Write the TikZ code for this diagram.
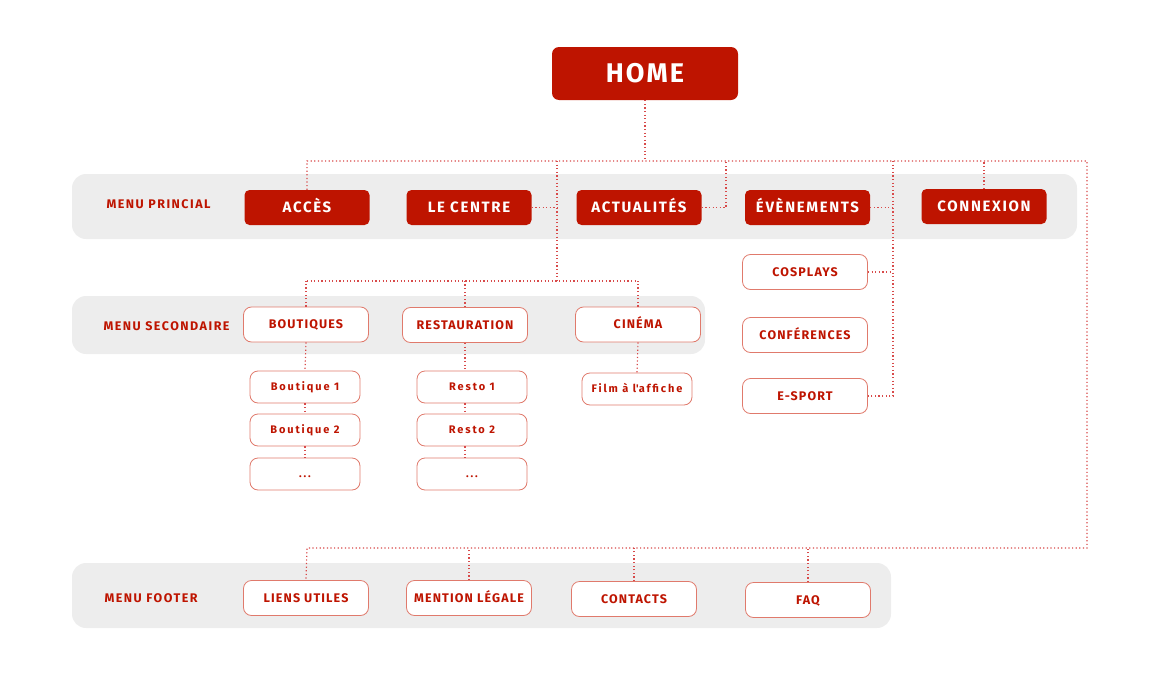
\documentclass[tikz,border=0pt]{standalone}
\usepackage{fontspec}
\setmainfont{Fira Sans}
\definecolor{brick}{HTML}{BE1400}
\definecolor{brickline}{HTML}{E07A6C}
\definecolor{dotred}{HTML}{D84A4A}
\definecolor{bandgray}{HTML}{EDEDED}
\tikzset{
  band/.style={fill=bandgray,rounded corners=14pt},
  bandlbl/.style={anchor=west,text=brick,font=\bfseries\fontsize{12.5}{12.5}\selectfont\addfontfeature{LetterSpace=12}},
  mainbtn/.style={fill=brick,text=white,rounded corners=5pt,minimum width=125pt,minimum height=35pt,inner sep=0pt,
    text height=10.4pt,text depth=0pt,
    font=\bfseries\fontsize{15}{15}\selectfont\addfontfeature{LetterSpace=11}},
  subbtn/.style={draw=brickline,fill=white,text=brick,line width=0.8pt,rounded corners=8pt,minimum width=125pt,minimum height=35pt,inner sep=0pt,
    text height=8.6pt,text depth=0pt,
    font=\bfseries\fontsize{12.5}{12.5}\selectfont\addfontfeature{LetterSpace=9}},
  itembtn/.style={subbtn,minimum width=110pt,minimum height=32pt,text height=7.6pt,
    font=\bfseries\fontsize{11}{11}\selectfont\addfontfeature{LetterSpace=17}},
  link/.style={draw=dotred,line width=1.2pt,dash pattern=on 1.2pt off 2.4pt}
}
\begin{document}
\begin{tikzpicture}[x=1pt,y=-1pt]
  \useasboundingbox (0,0) rectangle (1160,680);
  % bands
  \fill[band] (72,174) rectangle (1077,239);
  \fill[band] (72,296) rectangle (705,354);
  \fill[band] (72,563) rectangle (891,628);
  \node[bandlbl] (lblmain) at (103,204) {MENU PRINCIAL};
  \node[bandlbl] (lblsec) at (100,326) {MENU SECONDAIRE};
  \node[bandlbl] (lblfoot) at (101,598) {MENU FOOTER};
  % home + main menu
  \node[mainbtn,minimum width=186pt,minimum height=53pt,rounded corners=7pt,text height=18.6pt,
    font=\bfseries\fontsize{27}{27}\selectfont\addfontfeature{LetterSpace=8}] (home) at (645,73.5) {HOME};
  \node[mainbtn] (acces) at (307,207.5) {ACCÈS};
  \node[mainbtn] (centre) at (469,207.5) {LE CENTRE};
  \node[mainbtn] (actu) at (639,207.5) {ACTUALITÉS};
  \node[mainbtn] (even) at (807.5,207.5) {ÉVÈNEMENTS};
  \node[mainbtn] (connexion) at (984,206.5) {CONNEXION};
  % secondary menu
  \node[subbtn] (boutiques) at (306,324.5) {BOUTIQUES};
  \node[subbtn] (resto) at (465,325) {RESTAURATION};
  \node[subbtn] (cinema) at (638,324.5) {CINÉMA};
  \node[itembtn] (b1) at (305,387) {Boutique 1};
  \node[itembtn] (b2) at (305,430) {Boutique 2};
  \node[itembtn] (b3) at (305,474) {...};
  \node[itembtn] (r1) at (472,387) {Resto 1};
  \node[itembtn] (r2) at (472,430) {Resto 2};
  \node[itembtn] (r3) at (472,474) {...};
  \node[itembtn] (film) at (637,389) {Film à l\textquotesingle affiche};
  % events
  \node[subbtn] (cosplay) at (805,272) {COSPLAYS};
  \node[subbtn] (conf) at (805,335) {CONFÉRENCES};
  \node[subbtn] (esport) at (805,396) {E-SPORT};
  % footer
  \node[subbtn] (liens) at (306,598) {LIENS UTILES};
  \node[subbtn] (mention) at (469,598) {MENTION LÉGALE};
  \node[subbtn] (contacts) at (634,599) {CONTACTS};
  \node[subbtn] (faq) at (808,600) {FAQ};
  % buses
  \coordinate (busL) at (307,161);
  \coordinate (busR) at (1087,161);
  \coordinate (footL) at (307,548);
  \coordinate (footR) at (1087,548);
  \coordinate (secL) at (307,281);
  \coordinate (secR) at (636,281);
  \coordinate (cdrop) at (557,161);
  \coordinate (adrop) at (726,161);
  \coordinate (edrop) at (893,161);
  \draw[link] (home.south) -- (home.south |- busL);
  \draw[link] (acces.north) -- (busL) -- (busR) -- (footR) -- (footL) -- (liens.north);
  \draw[link] (connexion.north) -- (connexion.north |- busL);
  \draw[link] (centre.east) -- (centre.east -| cdrop);
  \draw[link] (cdrop) -- (cdrop |- secL);
  \draw[link] (secL) -- (secR);
  \draw[link] (actu.east) -| (adrop);
  \draw[link] (even.east) -- (even.east -| edrop);
  \draw[link] (edrop) |- (esport.east);
  \draw[link] (cosplay.east) -- (cosplay.east -| edrop);
  \foreach \n in {boutiques,resto,cinema}
    \draw[link] (\n.north) -- (\n.north |- secL);
  \foreach \n in {mention,contacts,faq}
    \draw[link] (\n.north) -- (\n.north |- footL);
  \draw[link] (boutiques.south) -- (b1.north);
  \draw[link] (b1.south) -- (b2.north);
  \draw[link] (b2.south) -- (b3.north);
  \draw[link] (resto.south) -- (resto.south |- r1.north);
  \draw[link] (r1.south -| resto.south) -- (r2.north -| resto.south);
  \draw[link] (r2.south -| resto.south) -- (r3.north -| resto.south);
  \draw[link] (cinema.south) -- (film.north);
\end{tikzpicture}
\end{document}
